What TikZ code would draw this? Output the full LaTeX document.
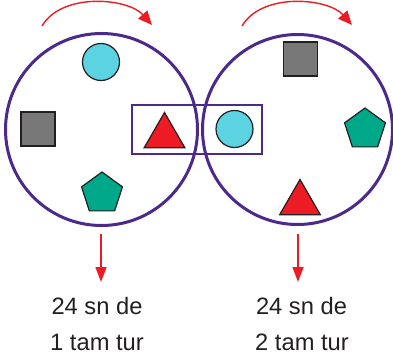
\documentclass[tikz,border=0pt]{standalone}
\usepackage{fontspec}
\setmainfont{Liberation Sans}
\usetikzlibrary{shapes.geometric,arrows.meta}
\definecolor{ringc}{RGB}{75,42,140}
\definecolor{redc}{RGB}{237,28,36}
\definecolor{cyanc}{RGB}{91,211,224}
\definecolor{grayc}{RGB}{120,120,120}
\definecolor{greenc}{RGB}{0,168,138}
\definecolor{edgec}{RGB}{35,31,32}
\tikzset{
  ring/.style={circle,draw=ringc,line width=3pt,inner sep=0pt},
  pairbox/.style={rectangle,draw=ringc,line width=2.4pt,inner sep=0pt,minimum width=130pt,minimum height=49pt},
  ball/.style={circle,draw=edgec,fill=cyanc,line width=1.2pt,inner sep=0pt,minimum size=37pt},
  cube/.style={rectangle,draw=edgec,fill=grayc,line width=1.2pt,inner sep=0pt,minimum size=34pt},
  tri/.style={regular polygon,regular polygon sides=3,draw=edgec,fill=redc,line width=1.2pt,inner sep=0pt,minimum size=47pt},
  penta/.style={regular polygon,regular polygon sides=5,draw=edgec,fill=greenc,line width=1.2pt,inner sep=0pt,minimum size=43pt},
  turn/.style={draw=redc,line width=1.4pt,-{Triangle[length=14pt,width=12pt]}},
  down/.style={draw=redc,line width=1.4pt,-{Triangle[length=15pt,width=11pt]}},
  lbl/.style={font=\fontsize{23.7}{36}\selectfont,text=edgec,inner sep=0pt,anchor=base}
}
\begin{document}
\begin{tikzpicture}[x=1pt,y=-1pt]
\useasboundingbox (0,0) rectangle (393,362);
% rings
\node[ring,minimum size=192pt] (c1) at (101.5,129.5) {};
\node[ring,minimum size=190pt] (c2) at (297.5,129.5) {};
\node[pairbox] (pb) at (197,129.5) {};
% left ring contents
\node[ball] (b1) at (101,62) {};
\node[cube] (q1) at (38,129) {};
\node[tri] (t1) at (164.5,136) {};
\node[penta] (p1) at (102,193.5) {};
% right ring contents
\node[ball] (b2) at (234.5,129) {};
\node[cube] (q2) at (300.5,59) {};
\node[penta] (p2) at (365,129.5) {};
\node[tri] (t2) at (300,203) {};
% turning arrows
\coordinate (a1s) at (42,26);
\coordinate (a1e) at (152,25);
\coordinate (a2s) at (242,26);
\coordinate (a2e) at (352,25);
\draw[turn] (a1s) .. controls (62,-8) and (128,-2) .. (a1e);
\draw[turn] (a2s) .. controls (262,-8) and (328,-2) .. (a2e);
% labels
\node[lbl] (l1a) at (97,314) {24 sn de};
\node[lbl] (l1b) at (97,350) {1 tam tur};
\node[lbl] (l2a) at (301.5,314) {24 sn de};
\node[lbl] (l2b) at (302,350) {2 tam tur};
\coordinate (d1s) at (101,234);
\coordinate (d1e) at (101,282);
\coordinate (d2s) at (298,234);
\coordinate (d2e) at (298,282);
\draw[down] (d1s) -- (d1e);
\draw[down] (d2s) -- (d2e);
\end{tikzpicture}
\end{document}
